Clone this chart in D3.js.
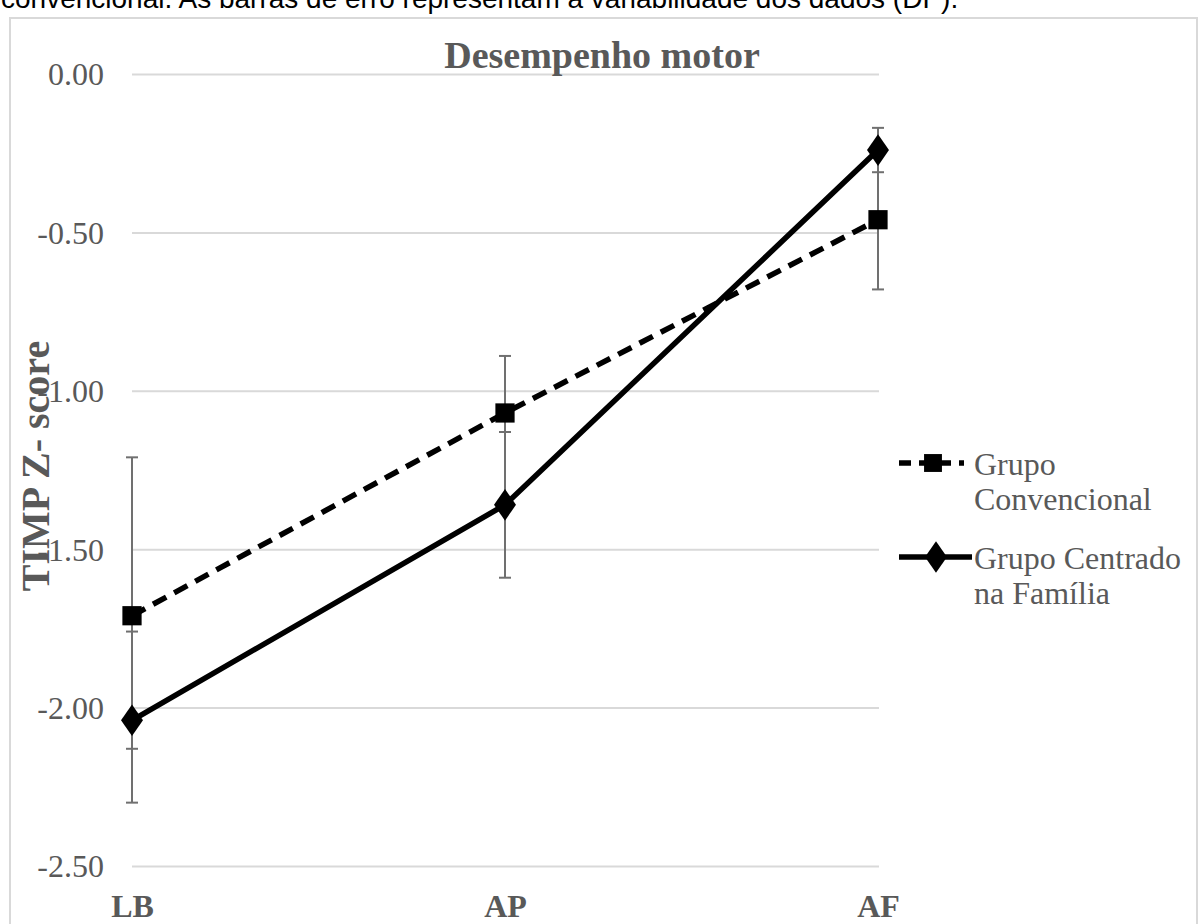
<!DOCTYPE html>
<html>
<head>
<meta charset="utf-8">
<script src="https://cdn.jsdelivr.net/npm/d3@7"></script>
<style>
  body { margin: 0; background: #fff; }
  svg { display: block; }
</style>
</head>
<body>
<svg id="motor-graph" width="1203" height="924"></svg>
<script>
// chart data
var categories = ["LB", "AP", "AF"];
var yTicks = [0, -0.5, -1, -1.5, -2, -2.5];

var convMean = [-1.71, -1.07, -0.46];
var convLow  = [-2.13, -1.13, -0.68];
var convHigh = [-1.21, -0.89, -0.24];

var famMean = [-2.04, -1.36, -0.24];
var famLow  = [-2.30, -1.59, -0.31];
var famHigh = [-1.76, -1.13, -0.17];

var seriesNames = [["Grupo", "Convencional"], ["Grupo Centrado", "na Família"]];

var svg = d3.select("#motor-graph"),
    margin = {top: 74, right: 325, bottom: 58, left: 132},
    width = +svg.attr("width") - margin.left - margin.right,
    height = +svg.attr("height") - margin.top - margin.bottom;

var serif = "'Liberation Serif', 'Times New Roman', serif",
    textGrey = "#595959";

// caption line cut off at the top of the picture
svg.append("text")
    .attr("x", 1)
    .attr("y", 8)
    .attr("font-family", "'Liberation Sans', Arial, sans-serif")
    .attr("font-size", 28)
    .attr("fill", "#000")
    .text("convencional. As barras de erro representam a variabilidade dos dados (DP).");

// chart frame
svg.append("rect")
    .attr("x", 10)
    .attr("y", 18)
    .attr("width", 1187)
    .attr("height", 930)
    .attr("fill", "none")
    .attr("stroke", "#d9d9d9")
    .attr("stroke-width", 2);

var g = svg.append("g").attr("transform", "translate(" + margin.left + "," + margin.top + ")");

// set the ranges
var x = d3.scalePoint().domain(categories).range([0, width]);
var y = d3.scaleLinear().domain([-2.5, 0]).range([height, 0]);

var yAxis = d3.axisLeft(y)
    .tickValues(yTicks)
    .tickSize(-width - 1)
    .tickFormat(function(d) { return d.toFixed(2); });

var xAxis = d3.axisBottom(x).tickSize(0);

// gridlines + y labels
g.append("g").call(customYAxis);

// x labels
g.append("g")
    .attr("transform", "translate(0," + height + ")")
    .call(customXAxis);

// title
svg.append("text")
    .attr("x", 602)
    .attr("y", 68)
    .attr("text-anchor", "middle")
    .attr("font-family", serif)
    .attr("font-weight", "bold")
    .attr("font-size", 38)
    .attr("fill", textGrey)
    .text("Desempenho motor");

// y axis title
svg.append("text")
    .attr("transform", "translate(49,466) rotate(-90)")
    .attr("text-anchor", "middle")
    .attr("font-family", serif)
    .attr("font-weight", "bold")
    .attr("font-size", 40)
    .attr("fill", textGrey)
    .text("TIMP Z- score");

// error bars
function errorBars(low, high, cls) {
  var eb = g.append("g").attr("class", cls);
  var idx = d3.range(categories.length);
  eb.selectAll("line.bar")
      .data(idx)
    .enter().append("line")
      .attr("class", "bar")
      .attr("x1", function(i) { return x(categories[i]); })
      .attr("x2", function(i) { return x(categories[i]); })
      .attr("y1", function(i) { return y(high[i]); })
      .attr("y2", function(i) { return y(low[i]); })
      .attr("stroke", "#707070")
      .attr("stroke-width", 2);
  [low, high].forEach(function(vals) {
    eb.selectAll(null)
        .data(idx)
      .enter().append("line")
        .attr("x1", function(i) { return x(categories[i]) - 6; })
        .attr("x2", function(i) { return x(categories[i]) + 6; })
        .attr("y1", function(i) { return y(vals[i]); })
        .attr("y2", function(i) { return y(vals[i]); })
        .attr("stroke", "#707070")
        .attr("stroke-width", 2);
  });
}

errorBars(convLow, convHigh, "err-conv");
errorBars(famLow, famHigh, "err-fam");

// define the lines
var line = d3.line()
    .x(function(d, i) { return x(categories[i]); })
    .y(function(d) { return y(d); });

g.append("path")
    .datum(convMean)
    .attr("fill", "none")
    .attr("stroke", "#000")
    .attr("stroke-width", 5.5)
    .attr("stroke-dasharray", "15,9")
    .attr("d", line);

g.append("path")
    .datum(famMean)
    .attr("fill", "none")
    .attr("stroke", "#000")
    .attr("stroke-width", 5.5)
    .attr("stroke-linejoin", "round")
    .attr("d", line);

var square = d3.symbol().type(d3.symbolSquare).size(370),
    diamond = d3.symbol().type(d3.symbolDiamond).size(290);

g.selectAll(".sq")
    .data(convMean)
  .enter().append("path")
    .attr("class", "sq")
    .attr("transform", function(d, i) { return "translate(" + x(categories[i]) + "," + y(d) + ")"; })
    .attr("d", square)
    .attr("fill", "#000");

g.selectAll(".dm")
    .data(famMean)
  .enter().append("path")
    .attr("class", "dm")
    .attr("transform", function(d, i) { return "translate(" + x(categories[i]) + "," + y(d) + ") scale(1.2,1)"; })
    .attr("d", diamond)
    .attr("fill", "#000");

// legend
var legendY = [463, 557];
var legend = svg.append("g");

legend.selectAll("g")
    .data(seriesNames)
  .enter().append("g")
    .each(function(names, i) {
      var lg = d3.select(this);
      lg.append("line")
          .attr("x1", 899)
          .attr("x2", i === 0 ? 964 : 972)
          .attr("y1", legendY[i])
          .attr("y2", legendY[i])
          .attr("stroke", "#000")
          .attr("stroke-width", 5.5)
          .attr("stroke-dasharray", i === 0 ? "12,8" : null);
      lg.append("path")
          .attr("transform", "translate(" + (i === 0 ? 933 : 936) + "," + legendY[i] + ")" + (i === 0 ? "" : " scale(1.2,1)"))
          .attr("d", i === 0 ? d3.symbol().type(d3.symbolSquare).size(320) : diamond)
          .attr("fill", "#000");
      lg.selectAll("text")
          .data(names)
        .enter().append("text")
          .attr("x", 974)
          .attr("y", function(d, k) { return legendY[i] + 12 + k * 35; })
          .attr("font-family", serif)
          .attr("font-size", 32)
          .attr("fill", textGrey)
          .text(function(d) { return d; });
    });

function customYAxis(g) {
  g.call(yAxis);
  g.select(".domain").remove();
  g.selectAll(".tick line").attr("stroke", "#d9d9d9").attr("stroke-width", 2);
  g.selectAll(".tick text")
      .attr("x", -28)
      .attr("dy", "0.34em")
      .attr("fill", textGrey)
      .attr("font-family", serif)
      .attr("font-size", 32)
      .style("text-anchor", "end");
}

function customXAxis(g) {
  g.call(xAxis);
  g.select(".domain").remove();
  g.selectAll(".tick text")
      .attr("y", 51)
      .attr("dy", 0)
      .attr("fill", textGrey)
      .attr("font-family", serif)
      .attr("font-weight", "bold")
      .attr("font-size", 32);
}
</script>
</body>
</html>
